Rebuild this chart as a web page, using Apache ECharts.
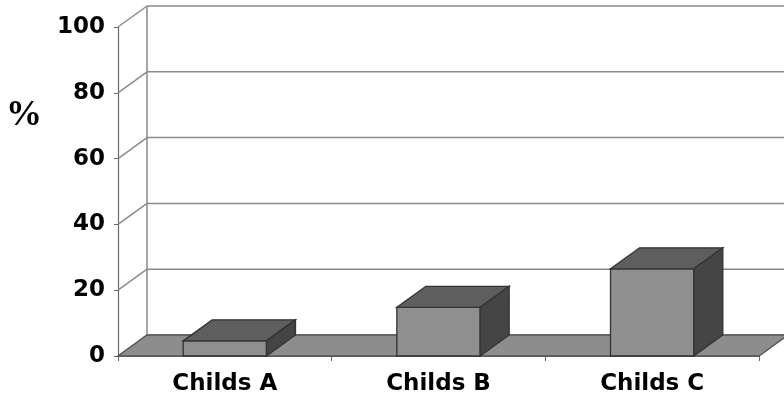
<!DOCTYPE html>
<html>
<head>
<meta charset="utf-8">
<script src="https://cdn.jsdelivr.net/npm/echarts@6/dist/echarts.min.js"></script>
<style>
html,body{margin:0;padding:0;background:#fff;}
#chart{width:784px;height:401px;}
</style>
</head>
<body>
<div id="chart"></div>
<script>
const categories = ['Childs A', 'Childs B', 'Childs C'];
const percentValues = [4.6, 14.8, 26.5];
const yTicks = [0, 20, 40, 60, 80, 100];

const DX = 29, DY = -21;
const GRID_COLOR = '#8a8a8a';
const EDGE = '#333333';

const chart = echarts.init(document.getElementById('chart'));

function wallItem(params, api) {
  const cs = params.coordSys;
  const y = api.coord([0, api.value(1)])[1];
  const x0 = cs.x;
  const children = [
    { type: 'line', shape: { x1: x0, y1: y, x2: x0 + DX, y2: y + DY }, style: { stroke: GRID_COLOR, lineWidth: 1.5 } },
    { type: 'line', shape: { x1: x0 + DX, y1: y + DY, x2: cs.x + cs.width + DX + 10, y2: y + DY }, style: { stroke: GRID_COLOR, lineWidth: 1.5 } }
  ];
  if (params.dataIndex === 0) {
    const yTop = api.coord([0, yTicks[yTicks.length - 1]])[1];
    children.push({ type: 'line', shape: { x1: x0 + DX, y1: y + DY, x2: x0 + DX, y2: yTop + DY }, style: { stroke: GRID_COLOR, lineWidth: 1.5 } });
  }
  return { type: 'group', children };
}

function floorItem(params, api) {
  const cs = params.coordSys;
  const y = api.coord([0, 0])[1];
  const xl = cs.x, xr = cs.x + cs.width;
  return {
    type: 'polygon',
    shape: { points: [[xl, y], [xr, y], [xr + DX, y + DY], [xl + DX, y + DY]] },
    style: { fill: '#8d8d8d', stroke: '#555555', lineWidth: 1.3 }
  };
}

function barItem(params, api) {
  const base = api.coord([api.value(0), 0]);
  const top = api.coord([api.value(0), api.value(1)]);
  const w = api.size([1, 0])[0] * 0.39;
  const xl = base[0] - w / 2, xr = base[0] + w / 2;
  const yt = top[1], yb = base[1];
  return {
    type: 'group',
    children: [
      { type: 'polygon', shape: { points: [[xl, yt], [xr, yt], [xr, yb], [xl, yb]] }, style: { fill: '#8f8f8f', stroke: EDGE, lineWidth: 1.3 } },
      { type: 'polygon', shape: { points: [[xl, yt], [xl + DX, yt + DY], [xr + DX, yt + DY], [xr, yt]] }, style: { fill: '#5e5e5e', stroke: EDGE, lineWidth: 1.3 } },
      { type: 'polygon', shape: { points: [[xr, yt], [xr + DX, yt + DY], [xr + DX, yb + DY], [xr, yb]] }, style: { fill: '#454545', stroke: EDGE, lineWidth: 1.3 } }
    ]
  };
}

chart.setOption({
  animation: false,
  backgroundColor: '#fff',
  grid: { left: 118, right: 25, top: 27, bottom: 45 },
  xAxis: {
    type: 'category',
    data: categories,
    axisLine: { show: true, lineStyle: { color: '#6a6a6a', width: 1.2 } },
    axisTick: { show: true, length: 5, lineStyle: { color: '#6a6a6a' } },
    axisLabel: { margin: 17, color: '#000', fontFamily: 'DejaVu Sans', fontWeight: 'bold', fontSize: 23 },
    splitLine: { show: false }
  },
  yAxis: {
    type: 'value',
    min: 0, max: 100, interval: 20,
    axisLine: { show: true, lineStyle: { color: '#6a6a6a', width: 1.2 } },
    axisTick: { show: true, length: 4, lineStyle: { color: '#6a6a6a' } },
    axisLabel: { margin: 13, color: '#000', fontFamily: 'DejaVu Sans', fontWeight: 'bold', fontSize: 23 },
    splitLine: { show: false }
  },
  graphic: [
    { type: 'text', left: 6, top: 98, style: { text: '%', fill: '#000', fontFamily: 'Liberation Serif', fontWeight: 'bold', fontSize: 36 } }
  ],
  series: [
    { type: 'custom', z: 1, silent: true, data: yTicks.map(v => [0, v]), renderItem: wallItem },
    { type: 'custom', z: 2, silent: true, data: [[0, 0]], renderItem: floorItem },
    { type: 'custom', z: 3, silent: true, data: percentValues.map((v, i) => [i, v]), renderItem: barItem }
  ]
});
</script>
</body>
</html>
